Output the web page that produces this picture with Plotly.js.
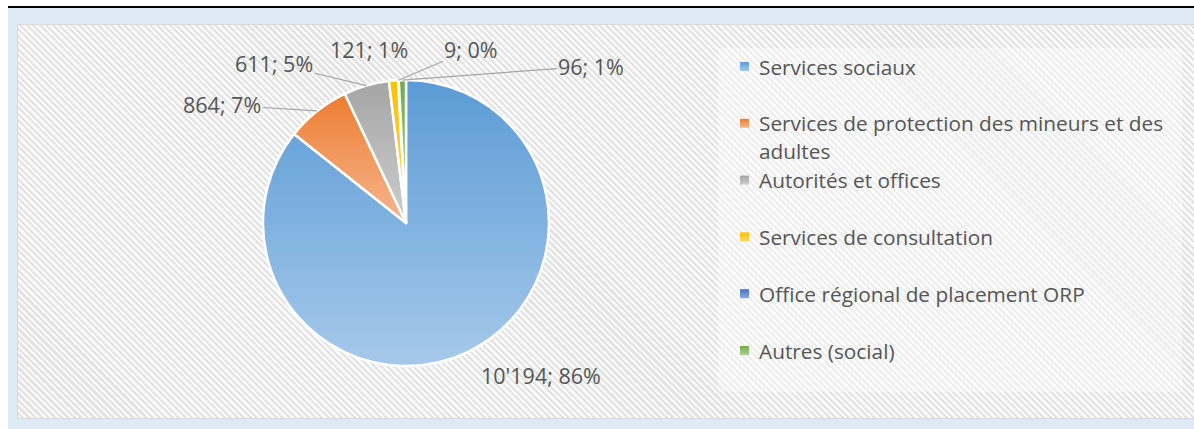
<!DOCTYPE html>
<html><head><meta charset="utf-8">
<script src="https://cdn.plot.ly/plotly-3.0.1.min.js"></script>
<style>
html,body{margin:0;padding:0;background:#fff;width:1194px;height:429px;overflow:hidden}
#topline{position:absolute;left:8px;top:6px;width:1186px;height:2px;background:#000}
#frame{position:absolute;left:8px;top:8px;width:1186px;height:421px;background:#deebf7}
#hatch{position:absolute;left:17px;top:24px;width:1177px;height:393px;border:1px solid #d9d9d9;border-right:none;
background:repeating-linear-gradient(45deg,#fafafa 0px,#fafafa 2.4px,#e3e3e3 2.4px,#e3e3e3 4.6px)}
#chart{position:absolute;left:0;top:0;width:1194px;height:429px}
</style></head>
<body>
<div id="topline"></div><div id="frame"></div><div id="hatch"></div><div id="chart"></div>
<script>
// ---- data ----
const categories = ["Services sociaux", "Services de protection des mineurs et des adultes", "Autorités et offices", "Services de consultation", "Office régional de placement ORP", "Autres (social)"];
const values = [10194, 864, 611, 121, 9, 96];

// ---- style ----
const colorsTop = ["#5b9bd5", "#ed7d31", "#a5a5a5", "#ffc000", "#4472c4", "#70ad47"];
const colorsBottom = ["#a6c9ea", "#f6b690", "#cecece", "#ffd966", "#8faadc", "#a9d18e"];
const labelOffsets = [[73, 24], [-95, -6], [-92, -22], [-25, -31], [73, -31], [189, -14]];
const showLeader = [false, true, true, false, true, true];

const W = 1194, H = 429;
const pieCx = 406, pieCy = 223, pieR = 143;
const labelFont = {family: "Open Sans", size: 21.5, color: "#555555"};
const legendFont = {family: "Open Sans", size: 20.8, color: "#555555"};

function fmtThousands(v){ return String(v).replace(/\B(?=(\d{3})+(?!\d))/g, "'"); }
const total = values.reduce((a,b)=>a+b,0);
const labelTexts = values.map(v => fmtThousands(v) + "; " + Math.round(v/total*100) + "%");

function wrap(s, maxChars){
  const words = s.split(" "); const lines = []; let cur = "";
  words.forEach(w => { if ((cur + " " + w).trim().length > maxChars && cur) { lines.push(cur); cur = w; } else { cur = (cur + " " + w).trim(); } });
  if (cur) lines.push(cur); return lines;
}

const trace = {
  type: "pie", values: values, labels: categories, sort: false, direction: "clockwise", rotation: 0,
  marker: {colors: colorsTop, line: {color: "#ffffff", width: 2.5}},
  textinfo: "none", hoverinfo: "skip", showlegend: false,
  domain: {x: [(pieCx - pieR)/W, (pieCx + pieR)/W], y: [1 - (pieCy + pieR)/H, 1 - (pieCy - pieR)/H]}
};

const annotations = [];
const shapes = [];
// legend background
shapes.push({type: "rect", xref: "paper", yref: "paper", x0: 718/W, x1: 1182/W, y0: 1 - 392/H, y1: 1 - 48/H,
  fillcolor: "rgba(255,255,255,0.35)", line: {width: 0}, layer: "below"});

// data labels with leader lines
let cum = 0;
values.forEach((v, i) => {
  const mid = (cum + v/2) / total; cum += v;
  const th = mid * 2 * Math.PI;
  const hx = pieCx + pieR * Math.sin(th), hy = pieCy - pieR * Math.cos(th);
  annotations.push({xref: "paper", yref: "paper", x: hx/W, y: 1 - hy/H, ax: labelOffsets[i][0], ay: labelOffsets[i][1],
    text: labelTexts[i], font: labelFont, showarrow: true, arrowhead: 0, arrowwidth: 1.2, standoff: 0,
    arrowcolor: showLeader[i] ? "#a6a6a6" : "rgba(0,0,0,0)"});
});

// legend
const legTop = 66.5, legStep = 56.8, legLine = 28, legX = 757, mkX = 740, mkS = 9;
categories.forEach((c, i) => {
  const yc = legTop + i * legStep;
  wrap(c, 42).forEach((ln, k) => {
    annotations.push({xref: "paper", yref: "paper", x: legX/W, y: 1 - (yc + k*legLine)/H, xanchor: "left", yanchor: "middle",
      text: ln, font: legendFont, showarrow: false});
  });
  shapes.push({type: "rect", xref: "paper", yref: "paper", x0: mkX/W, x1: (mkX+mkS)/W, y0: 1 - (yc + mkS/2)/H, y1: 1 - (yc - mkS/2)/H,
    fillcolor: colorsTop[i], line: {width: 0}});
});

const layout = {
  width: W, height: H, margin: {l: 0, r: 0, t: 0, b: 0},
  paper_bgcolor: "rgba(0,0,0,0)", plot_bgcolor: "rgba(0,0,0,0)",
  showlegend: false, annotations: annotations, shapes: shapes, font: labelFont
};

Plotly.newPlot("chart", [trace], layout, {displayModeBar: false, staticPlot: true}).then(gd => {
  const svg = gd.querySelector(".main-svg");
  let defs = svg.querySelector("defs");
  const NS = "http://www.w3.org/2000/svg";
  if (!defs) { defs = document.createElementNS(NS, "defs"); svg.insertBefore(defs, svg.firstChild); }
  colorsTop.forEach((c, i) => {
    const g = document.createElementNS(NS, "linearGradient");
    g.setAttribute("id", "sliceGrad" + i); g.setAttribute("x1", "0"); g.setAttribute("y1", "0"); g.setAttribute("x2", "0"); g.setAttribute("y2", "1");
    [[0, c], [1, colorsBottom[i]]].forEach(([o, col]) => {
      const s = document.createElementNS(NS, "stop"); s.setAttribute("offset", o); s.setAttribute("stop-color", col); g.appendChild(s);
    });
    defs.appendChild(g);
  });
  gd.querySelectorAll(".slice path.surface").forEach((p, j) => {
    const d = p.__data__; const i = (d && typeof d.i === "number") ? d.i : j;
    p.style.fill = "url(#sliceGrad" + i + ")";
  });
  const shapePaths = gd.querySelectorAll(".shapelayer path");
  shapePaths.forEach((p, j) => { if (j >= 1 && j - 1 < colorsTop.length) p.style.fill = "url(#sliceGrad" + (j-1) + ")"; });
});
</script>
</body></html>
